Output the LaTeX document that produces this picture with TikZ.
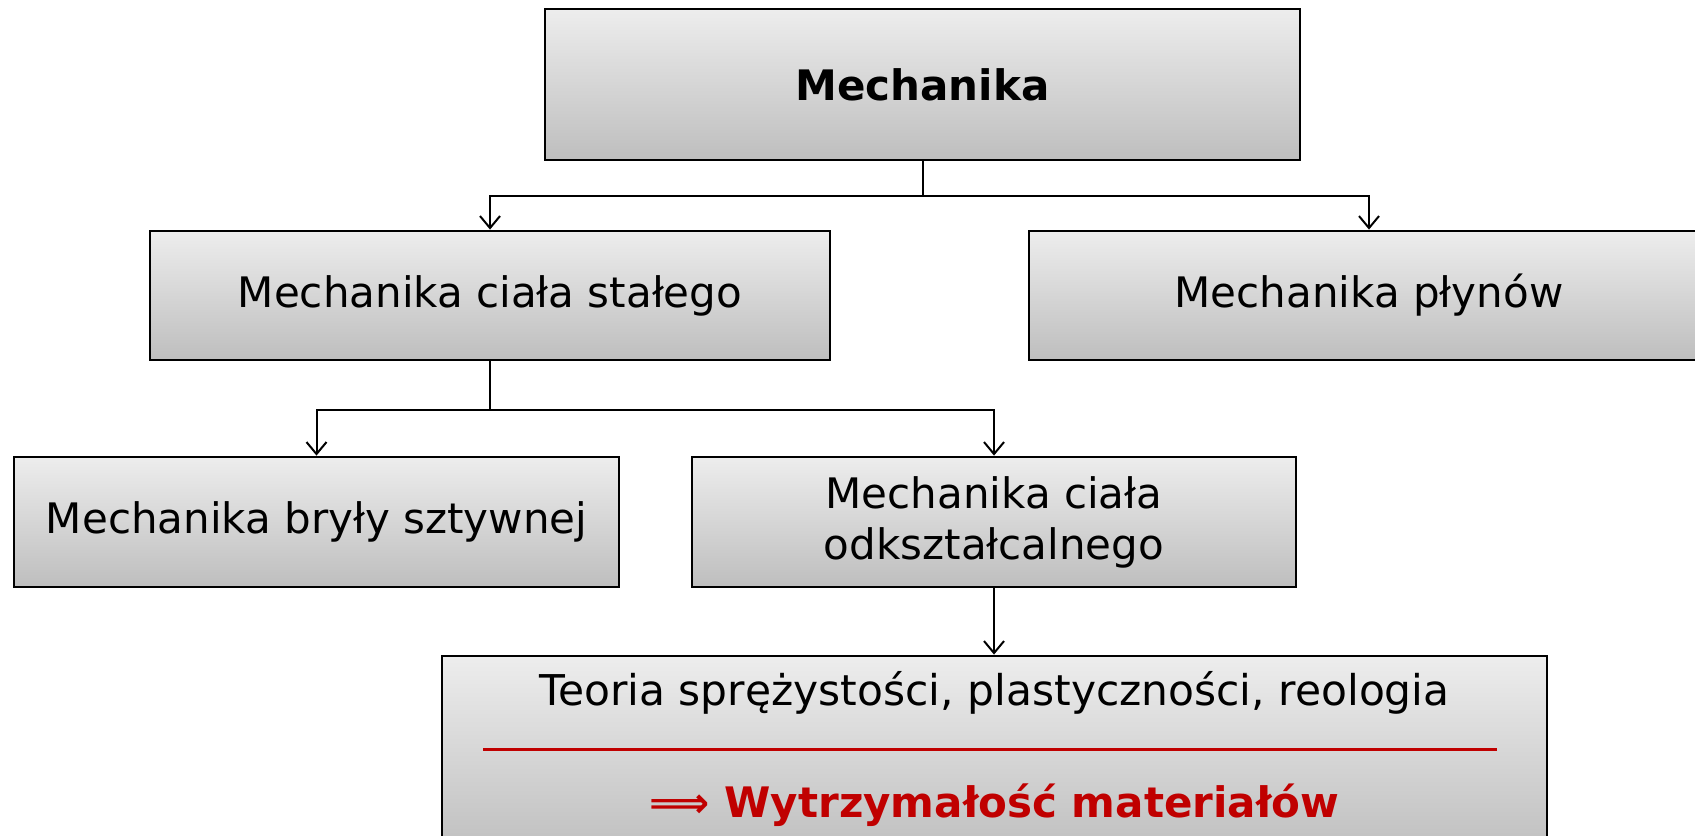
\documentclass[tikz,border=0pt]{standalone}
\usepackage{fontspec}
\setmainfont{DejaVu Sans}
\usepackage{tikz}
\usetikzlibrary{arrows.meta}
\definecolor{boxtop}{RGB}{237,237,237}
\definecolor{boxbot}{RGB}{190,190,190}
\definecolor{darkred}{RGB}{192,0,0}
\begin{document}
\begin{tikzpicture}[x=0.5pt,y=-0.5pt,
    box/.style={rectangle, draw=black, line width=1.4pt, top color=boxtop, bottom color=boxbot,
                align=center, inner sep=0pt, font=\fontsize{21}{25.5}\selectfont},
    link/.style={line width=1pt, -{Straight Barb[length=6pt,width=10pt,line width=1pt]}}]

    \useasboundingbox (0,0) rectangle (1695,835);
    \clip (0,0) rectangle (1695,835);

    \node[box, minimum width=377.5pt, minimum height=75.5pt, font=\fontsize{21}{25.5}\selectfont\bfseries](m1) at (922.5,84.5) {Mechanika};

    \node[box, minimum width=340pt, minimum height=64.5pt](m2) at (490,295.5) {Mechanika ciała stałego};
    \node[box, minimum width=340pt, minimum height=64.5pt](m3) at (1369,295.5) {Mechanika płynów};

    \node[box, minimum width=302.5pt, minimum height=65pt](m4) at (316.5,522) {Mechanika bryły sztywnej};
    \node[box, minimum width=302pt, minimum height=65pt](m5) at (994,522) {Mechanika ciała\\odkształcalnego};

    \node[box, minimum width=552.5pt, minimum height=100pt](m6) at (994.5,756) {};
    \node[font=\fontsize{21.2}{25.5}\selectfont](t1) at (994.5,693) {Teoria sprężystości, plastyczności, reologia};
    \node[font=\fontsize{21}{25.5}\selectfont\bfseries, text=darkred](t2) at (994.5,805) {⟹ Wytrzymałość materiałów};
    \coordinate (r1) at (483,749);
    \coordinate (r2) at (1497,749);
    \draw[darkred, line width=1.5pt] (r1) -- (r2);

    % connectors
    \coordinate (b1) at (922.5,196);
    \draw[link] (m1.south) -- (b1) -| (m2.north);
    \draw[link] (b1) -| (m3.north);

    \coordinate (b2) at (490,410);
    \draw[link] (m2.south) -- (b2) -| (m4.north);
    \draw[link] (b2) -| (m5.north);

    \draw[link] (m5.south) -- (m5.south |- m6.north);

\end{tikzpicture}
\end{document}
